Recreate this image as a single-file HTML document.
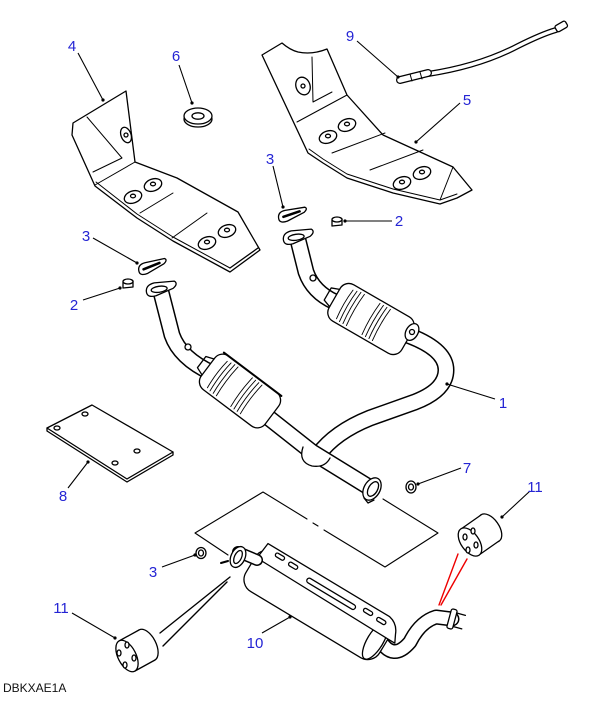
<!DOCTYPE html>
<html><head><meta charset="utf-8"><style>
html,body{margin:0;padding:0;background:#fff;}
svg{display:block}
text{font-family:"Liberation Sans",sans-serif;}
</style></head><body>
<svg width="611" height="714" viewBox="0 0 611 714" xmlns="http://www.w3.org/2000/svg">
<g fill="#fff" stroke="#000" stroke-width="1.3" stroke-linejoin="round" stroke-linecap="round">

<!-- Heat shield 4 -->
<path d="M72,135 L73,123 L126,91 L135,162 L177,178 L238,212 L260,250 L230,272 L173,241 L137,218 L95,186 Z"/>
<path d="M230,268 L258,248" fill="none"/>
<path d="M96,182 L137,214 L173,237 L230,268" fill="none" stroke-width="1"/>
<path d="M87,117 L122,158 L93,172" fill="none" stroke-width="1"/>
<path d="M135,162 L95,185" fill="none" stroke-width="1"/>
<path d="M140,213 L173,193 M172,238 L207,213" fill="none" stroke-width="1"/>
<ellipse cx="126" cy="135" rx="5" ry="8" transform="rotate(-20 126 135)"/>
<circle cx="126" cy="135" r="2"/>
<ellipse cx="153" cy="185" rx="9" ry="6" transform="rotate(-20 153 185)"/>
<ellipse cx="153" cy="184" rx="2.5" ry="1.8"/>
<ellipse cx="133" cy="197" rx="9" ry="6" transform="rotate(-20 133 197)"/>
<ellipse cx="133" cy="196" rx="2.5" ry="1.8"/>
<ellipse cx="227" cy="231" rx="9" ry="6" transform="rotate(-20 227 231)"/>
<ellipse cx="227" cy="230" rx="2.5" ry="1.8"/>
<ellipse cx="207" cy="243" rx="9" ry="6" transform="rotate(-20 207 243)"/>
<ellipse cx="207" cy="242" rx="2.5" ry="1.8"/>

<!-- Heat shield 5 -->
<path d="M262,55 L282,43 Q290,50 298,52 Q312,55 327,49 L347,95 L383,135 L453,167 L472,190 L457,198 L440,204 L393,193 L347,178 L323,163 L308,153 Z"/>
<path d="M309,149 L323,159 L347,174 L393,189 L440,200 L457,194" fill="none" stroke-width="1"/>
<path d="M312,57 L313,102 L332,92" fill="none" stroke-width="1"/>
<path d="M297,122 L347,95 M332,153 L385,133 M370,170 L423,150 M440,200 L453,167" fill="none" stroke-width="1"/>
<ellipse cx="303" cy="86" rx="7" ry="9" transform="rotate(-20 303 86)"/>
<circle cx="303" cy="86" r="2"/>
<ellipse cx="347" cy="125" rx="9" ry="6" transform="rotate(-20 347 125)"/>
<ellipse cx="347" cy="124" rx="2.5" ry="1.8"/>
<ellipse cx="328" cy="137" rx="9" ry="6" transform="rotate(-20 328 137)"/>
<ellipse cx="328" cy="136" rx="2.5" ry="1.8"/>
<ellipse cx="422" cy="173" rx="9" ry="6" transform="rotate(-20 422 173)"/>
<ellipse cx="422" cy="172" rx="2.5" ry="1.8"/>
<ellipse cx="402" cy="183" rx="9" ry="6" transform="rotate(-20 402 183)"/>
<ellipse cx="402" cy="182" rx="2.5" ry="1.8"/>

<!-- Sensor 9 -->
<path d="M428,74 Q480,66 518,46 Q542,34 556,30" fill="none" stroke-width="6"/>
<path d="M428,74 Q480,66 518,46 Q542,34 556,30" fill="none" stroke="#fff" stroke-width="3.5"/>
<rect x="555" y="23" width="12" height="7" rx="2" transform="rotate(-30 561 26)"/>
<path d="M400,80 L428,73" fill="none" stroke-width="8"/>
<path d="M400,80 L428,73" fill="none" stroke="#fff" stroke-width="5.5"/>
<path d="M410,74 L412,81 M420,72 L422,79" fill="none" stroke-width="1"/>

<!-- Washer 6 -->
<ellipse cx="198" cy="119" rx="14" ry="8"/>
<ellipse cx="198" cy="116" rx="14" ry="8"/>
<ellipse cx="198" cy="116" rx="6" ry="3.2"/>

<!-- Gaskets 3 -->
<g transform="translate(152,266) rotate(-15)">
<path d="M-14,2 Q-14,-5 -6,-5 L14,-4 Q17,-2 12,1 L-6,6 Q-14,7 -14,2 Z"/>
<path d="M-9,1 L8,-1" fill="none" stroke-width="2.5"/>
</g>
<g transform="translate(292,214) rotate(-12)">
<path d="M-14,2 Q-14,-5 -6,-5 L14,-4 Q17,-2 12,1 L-6,6 Q-14,7 -14,2 Z"/>
<path d="M-9,1 L8,-1" fill="none" stroke-width="2.5"/>
</g>

<!-- Nuts 2 -->
<g transform="translate(128,285)"><path d="M-5,-3 L5,-4 L5,2 L-5,3 Z"/><ellipse cx="0" cy="-3.5" rx="5" ry="2.5"/></g>
<g transform="translate(337,223)"><path d="M-5,-3 L5,-4 L5,2 L-5,3 Z"/><ellipse cx="0" cy="-3.5" rx="5" ry="2.5"/></g>

<!-- Right downpipe -->
<path d="M298,240 L306,272 Q313,292 335,302 L410,336 Q446,350 446,370 Q446,390 415,402 L370,418 Q335,432 318,455" fill="none" stroke-width="17"/>
<path d="M298,240 L306,272 Q313,292 335,302 L410,336 Q446,350 446,370 Q446,390 415,402 L370,418 Q335,432 318,455" fill="none" stroke="#fff" stroke-width="14"/>
<g transform="translate(371,319) rotate(30)">
<rect x="-42" y="-21" width="84" height="42" rx="10"/>
<path d="M-30,-16 Q-32,0 -30,17 M-26,-17 Q-28,0 -26,18 M-22,-18 Q-24,0 -22,18 M-18,-18 Q-20,0 -18,18 M0,-18 Q-2,0 0,18 M4,-18 Q2,0 4,18 M8,-18 Q6,0 8,18 M12,-18 Q10,0 12,18" fill="none" stroke-width="0.9"/>
<path d="M-42,-10 L-50,-7 L-50,7 L-42,10" fill="none"/>
</g>
<circle cx="313" cy="278" r="3"/>
<ellipse cx="412" cy="332" rx="6" ry="9" transform="rotate(30 412 332)"/>
<circle cx="412" cy="332" r="2.5"/>
<g transform="translate(298,236) rotate(-8)">
<path d="M-15,2 Q-15,-5 -6,-6 L14,-5 Q18,-2 12,2 L-6,7 Q-15,8 -15,2 Z"/>
<ellipse cx="-2" cy="1" rx="8" ry="3"/>
</g>

<!-- Left downpipe -->
<path d="M161,292 L172,335 Q180,358 212,373 L312,452 L372,489" fill="none" stroke-width="17"/>
<path d="M161,292 L172,335 Q180,358 212,373 L312,452 L372,489" fill="none" stroke="#fff" stroke-width="14"/>
<g transform="translate(240,391) rotate(37)">
<rect x="-40" y="-21" width="80" height="42" rx="10"/>
<path d="M-28,-16 Q-30,0 -28,17 M-24,-17 Q-26,0 -24,18 M-20,-18 Q-22,0 -20,18 M-16,-18 Q-18,0 -16,18 M2,-18 Q0,0 2,18 M6,-18 Q4,0 6,18 M10,-18 Q8,0 10,18 M14,-18 Q12,0 14,18" fill="none" stroke-width="0.9"/>
<path d="M-40,-10 L-48,-7 L-48,7 L-40,10" fill="none"/>
<path d="M-36,-21 L36,-21" fill="none" stroke-width="2"/>
</g>
<circle cx="188" cy="347" r="3"/>
<g transform="translate(161,288) rotate(-8)">
<path d="M-15,2 Q-15,-5 -6,-6 L14,-5 Q18,-2 12,2 L-6,7 Q-15,8 -15,2 Z"/>
<ellipse cx="-2" cy="1" rx="8" ry="3"/>
</g>
<path d="M303,447 Q298,462 312,466 Q325,468 330,458" />
<ellipse cx="372" cy="489" rx="8" ry="12" transform="rotate(30 372 489)"/>
<ellipse cx="373" cy="489" rx="4.5" ry="8" transform="rotate(30 373 489)"/>
<path d="M364,498 L368,503 L374,500" fill="none"/>

<!-- Nut 7 -->
<ellipse cx="411" cy="487" rx="5" ry="6"/>
<ellipse cx="411" cy="487" rx="2.5" ry="3"/>

<!-- Pad 8 -->
<path d="M47,428 L47,431 L127,482 L173,455 L173,452" fill="none"/>
<path d="M47,428 L92,405 L173,452 L127,479 Z"/>
<ellipse cx="57" cy="428" rx="3" ry="2"/>
<ellipse cx="85" cy="414" rx="3" ry="2"/>
<ellipse cx="137" cy="451" rx="3" ry="2"/>
<ellipse cx="115" cy="463" rx="3" ry="2"/>

<!-- Thin outline lines -->
<path d="M228,555 L195,533 L263,492 L307,519 M313,523 L318,526 M324,530 L385,567 L438,533 L383,499" fill="none" stroke-width="1.1"/>

<!-- Nut 3 lower -->
<ellipse cx="201" cy="553" rx="5" ry="5.5"/>
<ellipse cx="201" cy="553" rx="2.5" ry="3"/>

<!-- Tail pipe -->
<path d="M380,640 Q393,662 410,642 Q420,622 436,617 L452,619" fill="none" stroke-width="15"/>
<path d="M380,640 Q393,662 410,642 Q420,622 436,617 L452,619" fill="none" stroke="#fff" stroke-width="12"/>
<g transform="translate(452,619) rotate(15)">
<rect x="-3" y="-10" width="6" height="20" rx="2"/>
<path d="M3,-7 L12,-7 M3,7 L12,7" fill="none"/>
</g>

<!-- Muffler 10 -->
<g transform="translate(318,604) rotate(31)">
<rect x="-78" y="-22" width="156" height="46" rx="14"/>
<ellipse cx="68" cy="2" rx="8" ry="21"/>
<path d="M-74,-26 L68,-26 Q78,-24 82,-14 L86,-6 L78,-6 L-76,-8 Z"/>
<rect x="-62" y="-23" width="10" height="4" rx="2"/>
<rect x="-46" y="-22" width="10" height="4" rx="2"/>
<rect x="-22" y="-18" width="56" height="5" rx="2.5"/>
<rect x="42" y="-21" width="10" height="4" rx="2"/>
<rect x="58" y="-20" width="10" height="4" rx="2"/>
</g>
<path d="M257,560 L238,552" fill="none" stroke-width="12"/>
<path d="M257,560 L238,552" fill="none" stroke="#fff" stroke-width="9"/>
<ellipse cx="238" cy="557" rx="7" ry="11" transform="rotate(25 238 557)"/>
<ellipse cx="238" cy="557" rx="3.5" ry="7" transform="rotate(25 238 557)"/>
<path d="M228,561 L221,563" fill="none" stroke-width="2"/>

<!-- Hanger lines to left isolator -->
<path d="M160,633 L230,577 M163,646 L227,582" fill="none" stroke-width="1.4"/>

<!-- Red hanger lines -->
<path d="M458,554 L439,605 M467,559 L441,605" fill="none" stroke="#e00" stroke-width="1.4"/>

<!-- Isolator 11 right -->
<g>
<ellipse cx="490" cy="528" rx="9" ry="16" transform="rotate(-35 490 528)"/>
<path d="M461,529 L481,515 L499,541 L479,555 Z" stroke="none"/>
<path d="M461,529 L481,515 M479,555 L499,541" fill="none"/>
<ellipse cx="470" cy="542" rx="9" ry="16" transform="rotate(-35 470 542)"/>
<ellipse cx="465" cy="537" rx="2" ry="3"/>
<ellipse cx="473" cy="531" rx="2" ry="3"/>
<ellipse cx="468" cy="550" rx="2" ry="3"/>
<ellipse cx="476" cy="545" rx="2" ry="3"/>
</g>

<!-- Isolator 11 left -->
<g>
<ellipse cx="147" cy="645" rx="9" ry="17" transform="rotate(-27 147 645)"/>
<path d="M119,641 L139,630 L155,660 L135,671 Z" stroke="none"/>
<path d="M119,641 L139,630 M135,671 L155,660" fill="none"/>
<ellipse cx="127" cy="656" rx="9" ry="17" transform="rotate(-27 127 656)"/>
<ellipse cx="127" cy="645" rx="2" ry="3"/>
<ellipse cx="119" cy="653" rx="2" ry="3"/>
<ellipse cx="134" cy="658" rx="2" ry="3"/>
<ellipse cx="125" cy="665" rx="2" ry="3"/>
</g>
</g>

<!-- Leader lines -->
<g stroke="#000" stroke-width="1.1" fill="none">
<path d="M78,53 L103,100 M179,65 L192,103 M357,41 L398,77 M460,103 L416,142 M273,166 L283,207 M392,221 L345,221 M93,238 L137,263 M83,300 L120,288 M495,399 L447,384 M461,468 L418,484 M68,488 L88,462 M530,491 L502,517 M162,567 L195,555 M72,613 L115,638 M262,633 L290,617"/>
</g>
<g fill="#000">
<circle cx="103" cy="100" r="1.6"/><circle cx="192" cy="103" r="1.6"/><circle cx="398" cy="77" r="1.6"/>
<circle cx="416" cy="142" r="1.6"/><circle cx="283" cy="207" r="1.6"/><circle cx="345" cy="221" r="1.6"/>
<circle cx="137" cy="263" r="1.6"/><circle cx="120" cy="288" r="1.6"/><circle cx="447" cy="384" r="1.6"/>
<circle cx="418" cy="484" r="1.6"/><circle cx="88" cy="462" r="1.6"/><circle cx="502" cy="517" r="1.6"/>
<circle cx="195" cy="555" r="1.6"/><circle cx="115" cy="638" r="1.6"/><circle cx="290" cy="617" r="1.6"/>
</g>

<!-- Labels -->
<g fill="#2424d4" font-size="15" text-anchor="middle">
<text x="72" y="51">4</text>
<text x="176" y="61">6</text>
<text x="350" y="41">9</text>
<text x="467" y="105">5</text>
<text x="270" y="164">3</text>
<text x="399" y="226">2</text>
<text x="86" y="241">3</text>
<text x="74" y="310">2</text>
<text x="503" y="408">1</text>
<text x="467" y="473">7</text>
<text x="63" y="501">8</text>
<text x="535" y="492">11</text>
<text x="153" y="577">3</text>
<text x="61" y="613">11</text>
<text x="255" y="648">10</text>
</g>
<text x="3" y="692" font-size="12" fill="#111">DBKXAE1A</text>
</svg>
</body></html>
